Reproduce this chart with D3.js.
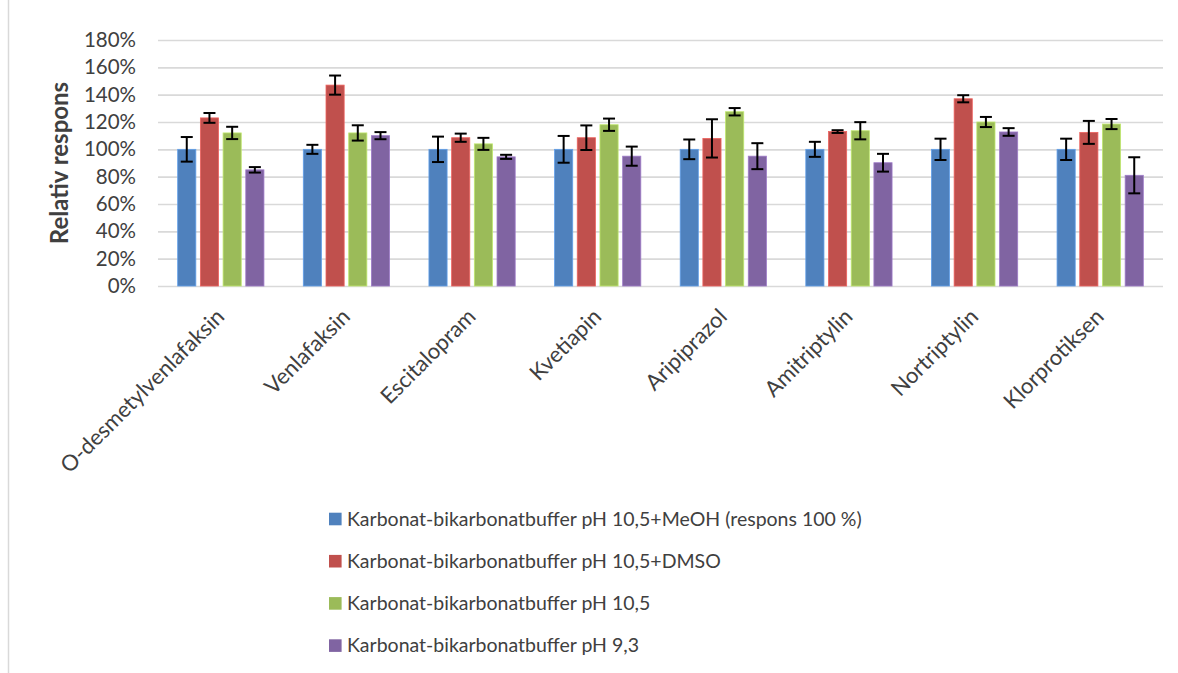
<!DOCTYPE html>
<html>
<head>
<meta charset="utf-8">
<script src="https://cdn.jsdelivr.net/npm/d3@7"></script>
<style>
  html, body { margin: 0; padding: 0; background: #ffffff; }
  svg { display: block; }
  text { font-family: "Lato", "Open Sans", sans-serif; fill: #404040; }
</style>
</head>
<body>
<svg id="chart" width="1178" height="673"></svg>
<script>
// Compounds on the x axis
const categories = ["O-desmetylvenlafaksin", "Venlafaksin", "Escitalopram", "Kvetiapin",
                    "Aripiprazol", "Amitriptylin", "Nortriptylin", "Klorprotiksen"];

// Series names (legend)
const seriesNames = [
  "Karbonat-bikarbonatbuffer pH 10,5+MeOH (respons 100 %)",
  "Karbonat-bikarbonatbuffer pH 10,5+DMSO",
  "Karbonat-bikarbonatbuffer pH 10,5",
  "Karbonat-bikarbonatbuffer pH 9,3"
];

// Relative response (%) and error (±%) per series
const meohValues  = [100, 100, 100, 100, 100, 100, 100, 100];
const meohErrors  = [9, 3.3, 9.3, 9.8, 7.2, 5.5, 7.8, 7.8];
const dmsoValues  = [123, 147, 108.5, 108.5, 108, 113, 137, 112.4];
const dmsoErrors  = [3.6, 7, 3, 9, 14, 1, 2.6, 8.4];
const ph105Values = [112, 112, 104, 118, 127.5, 113.6, 120, 118.5];
const ph105Errors = [4.5, 5.6, 4.4, 4.5, 2.7, 6.3, 3.7, 3.7];
const ph93Values  = [85, 110, 94.5, 95, 95, 90.2, 112.7, 81];
const ph93Errors  = [2, 2.6, 1.5, 7, 9.5, 6.5, 2.8, 13.2];

// Y axis ticks
const yTicks = [0, 20, 40, 60, 80, 100, 120, 140, 160, 180];
const yTitle = "Relativ respons";

const colors = ["#4F81BD", "#C0504D", "#9BBB59", "#8064A2"];

const seriesValues = [meohValues, dmsoValues, ph105Values, ph93Values];
const seriesErrors = [meohErrors, dmsoErrors, ph105Errors, ph93Errors];

const svg = d3.select("#chart");

// chart frame (left edge)
svg.append("line")
  .attr("x1", 8.5).attr("x2", 8.5).attr("y1", 0).attr("y2", 673)
  .attr("stroke", "#d9d9d9").attr("stroke-width", 1.5);

const plot = { left: 158, right: 1163, top: 40, bottom: 286 };

const y = d3.scaleLinear().domain([0, 180]).range([plot.bottom, plot.top]);

const x0 = d3.scaleBand().domain(categories).range([plot.left, plot.right]).padding(0);
const clusterWidth = 90.8;
const x1 = d3.scaleBand().domain(d3.range(seriesNames.length))
  .range([0, clusterWidth]).paddingInner(0.2).paddingOuter(0.1);
const clusterOffset = (x0.bandwidth() - clusterWidth) / 2;

// gridlines
const grid = svg.append("g")
  .attr("transform", `translate(${plot.left},0)`)
  .call(d3.axisLeft(y).tickValues(yTicks).tickSize(-(plot.right - plot.left)).tickFormat(""));
grid.select(".domain").remove();
grid.selectAll(".tick line").attr("stroke", "#d9d9d9").attr("stroke-width", 1.6);

// y tick labels
const yAxis = svg.append("g")
  .attr("transform", `translate(136,0)`)
  .call(d3.axisLeft(y).tickValues(yTicks).tickSize(0).tickPadding(0).tickFormat(d => d + "%"));
yAxis.select(".domain").remove();
yAxis.selectAll("text")
  .style("font-family", "Lato, 'Open Sans', sans-serif")
  .style("font-size", "20.5px").attr("fill", "#404040");

// y title
svg.append("text")
  .attr("transform", "translate(68,163) rotate(-90)")
  .attr("text-anchor", "middle")
  .style("font-size", "24px").style("font-weight", "bold")
  .text(yTitle);

// bars
const groups = svg.append("g").selectAll("g")
  .data(categories)
  .join("g")
  .attr("transform", d => `translate(${x0(d) + clusterOffset},0)`);

groups.each(function(cat, ci) {
  const g = d3.select(this);
  seriesNames.forEach((s, si) => {
    const v = seriesValues[si][ci];
    const e = seriesErrors[si][ci];
    const bx = x1(si);
    const bw = x1.bandwidth();
    g.append("rect")
      .attr("x", bx).attr("width", bw)
      .attr("y", y(v)).attr("height", y(0) - y(v))
      .attr("fill", colors[si])
      .attr("stroke", d3.color(colors[si]).brighter(0.6))
      .attr("stroke-width", 0.8);
    const cx = bx + bw / 2;
    const eb = g.append("g").attr("stroke", "#000").attr("stroke-width", 2);
    eb.append("line").attr("x1", cx).attr("x2", cx).attr("y1", y(v + e)).attr("y2", y(v - e));
    eb.append("line").attr("x1", cx - 6).attr("x2", cx + 6).attr("y1", y(v + e)).attr("y2", y(v + e));
    eb.append("line").attr("x1", cx - 6).attr("x2", cx + 6).attr("y1", y(v - e)).attr("y2", y(v - e));
  });
});

// category labels, rotated
svg.append("g").selectAll("text")
  .data(categories)
  .join("text")
  .attr("transform", d => `translate(${x0(d) + x0.bandwidth() / 2 + 5},318) rotate(-45)`)
  .attr("text-anchor", "end")
  .style("font-size", "22px")
  .text(d => d);

// legend
const legend = svg.append("g").selectAll("g")
  .data(seriesNames)
  .join("g")
  .attr("transform", (d, i) => `translate(329,${519 + i * 42.2})`);
legend.append("rect")
  .attr("x", 0).attr("y", -6.3).attr("width", 12.6).attr("height", 12.6)
  .attr("fill", (d, i) => colors[i]);
legend.append("text")
  .attr("x", 18).attr("y", 0).attr("dy", "0.35em")
  .style("font-size", "19.5px")
  .text(d => d);
</script>
</body>
</html>
